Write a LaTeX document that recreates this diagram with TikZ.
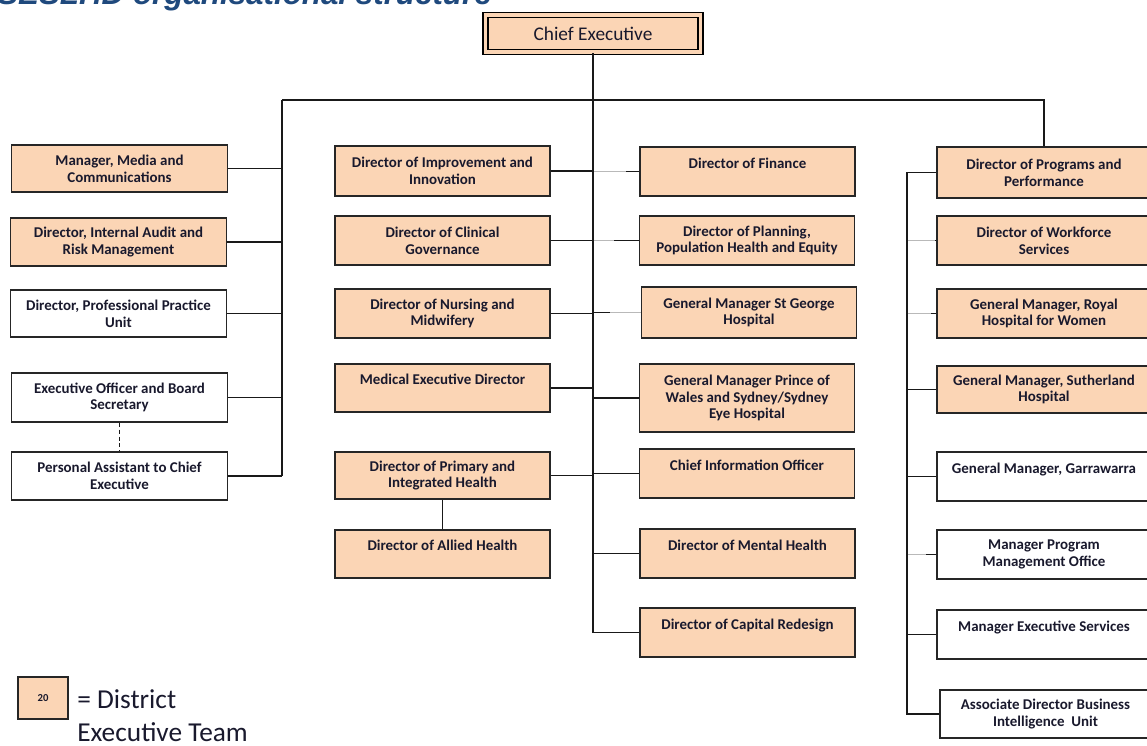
\documentclass[tikz,border=0pt]{standalone}
\usepackage{fontspec}
\setmainfont{Carlito}
\newfontfamily\titlefont{Liberation Sans}
\definecolor{peach}{RGB}{251,213,181}
\definecolor{txt}{RGB}{25,25,45}
\definecolor{titleblue}{RGB}{31,73,125}
\definecolor{segc}{RGB}{185,185,185}
\tikzset{
  orgbox/.style={draw=black!85, line width=1pt, fill=peach, text=txt, align=center,
    inner sep=0pt, font=\bfseries\fontsize{11.2}{12.6}\selectfont},
  wbox/.style={orgbox, fill=white},
  lcol/.style={minimum width=162pt},
  mcol/.style={minimum width=161.25pt},
  rcol/.style={minimum width=160.5pt},
  hh/.style={minimum height=#1*0.75pt},
  conn/.style={draw=black!90, line width=0.9pt},
  graysegm/.style={draw=segc, line width=0.9pt},
}
\begin{document}
\begin{tikzpicture}[x=0.75pt,y=-0.75pt]
\useasboundingbox (0,0) rectangle (1147,746);
\clip (0,0) rectangle (1147,746);

% title (cut at top)
\node[anchor=base west, inner sep=0pt, text=titleblue, font=\titlefont\bfseries\itshape\fontsize{23.5}{26}\selectfont] (title) at (-3,4) {SESLHD organisational structure};

% Chief Executive
\node[draw=black, line width=1.3pt, double=peach, double distance=2.6pt, fill=peach,
  minimum width=161.6pt, minimum height=27.75pt, inner sep=0pt, text=txt,
  font=\fontsize{14.5}{16}\selectfont] (ce) at (593,33.5) {Chief Executive};

% left column
\node[orgbox, lcol, hh=47] (media) at (119.5,168.5) {Manager, Media and\\Communications};
\node[orgbox, lcol, hh=48] (audit) at (118.5,242) {Director, Internal Audit and\\Risk Management};
\node[wbox, lcol, hh=47] (prof) at (118.5,313.5) {Director, Professional Practice\\Unit};
\node[wbox, lcol, hh=49] (execoff) at (119.5,397.5) {Executive Officer and Board\\Secretary};
\node[wbox, lcol, hh=48] (pa) at (119.5,476) {Personal Assistant to Chief\\Executive};

% middle-left column
\node[orgbox, mcol, hh=50] (improv) at (442.5,171) {Director of Improvement and\\Innovation};
\node[orgbox, mcol, hh=49] (clin) at (442.5,240.5) {Director of Clinical\\Governance};
\node[orgbox, mcol, hh=49] (nurs) at (442.5,313.5) {Director of Nursing and\\Midwifery};
\node[orgbox, mcol, hh=48] (med) at (442.5,388) {Medical Executive Director\\\mbox{}};
\node[orgbox, mcol, hh=47] (prim) at (442.5,475.5) {Director of Primary and\\Integrated Health};
\node[orgbox, mcol, hh=48] (allied) at (442.5,554) {Director of Allied Health\\\mbox{}};

% middle-right column
\node[orgbox, mcol, hh=49] (fin) at (747.5,171.5) {Director of Finance\\\mbox{}};
\node[orgbox, mcol, hh=49] (plan) at (747,240.5) {Director of Planning,\\Population Health and Equity};
\node[orgbox, mcol, hh=51] (stg) at (749,312.5) {General Manager St George\\Hospital};
\node[orgbox, mcol, hh=68] (pow) at (747,398) {General Manager Prince of\\Wales and Sydney/Sydney\\Eye Hospital};
\node[orgbox, mcol, hh=49] (cio) at (747,473.5) {Chief Information Officer\\\mbox{}};
\node[orgbox, mcol, hh=49] (mental) at (747.5,553.5) {Director of Mental Health\\\mbox{}};
\node[orgbox, mcol, hh=49] (capital) at (747.5,632.5) {Director of Capital Redesign\\\mbox{}};

% right column
\node[orgbox, rcol, hh=51] (prog) at (1044,172.5) {Director of Programs and\\Performance};
\node[orgbox, rcol, hh=49] (work) at (1044,240.5) {Director of Workforce\\Services};
\node[orgbox, rcol, hh=49] (royal) at (1044,313.5) {General Manager, Royal\\Hospital for Women};
\node[orgbox, rcol, hh=47] (suth) at (1044,389.5) {General Manager, Sutherland\\Hospital};
\node[wbox, rcol, hh=49] (garr) at (1044,476.5) {General Manager, Garrawarra\\\mbox{}};
\node[wbox, rcol, hh=49] (pmo) at (1044,554.5) {Manager Program\\Management Office};
\node[wbox, rcol, hh=49] (execsvc) at (1044,634.5) {Manager Executive Services\\\mbox{}};
\node[wbox, minimum width=158.25pt, hh=48] (assoc) at (1045.5,714) {Associate Director Business\\Intelligence\ \ Unit};

% bus coordinates
\coordinate (lb) at (282,100);
\coordinate (rb) at (907,172.5);

% main trunk
\draw[conn] (ce.south) -- (ce.south |- capital.west) -- (capital.west);
\draw[conn] (lb) -- (prog.north |- lb) -- (prog.north);
\draw[conn] (lb) -- (lb |- pa.east);

% left connectors
\foreach \n in {media,audit,prof,execoff,pa}
  \draw[conn] (\n.east) -- (\n.east -| lb);
\draw[conn, dash pattern=on 3pt off 2.2pt] (execoff.south) -- (pa.north);

% middle-left connectors
\foreach \n in {improv,clin,nurs,med,prim}
  \draw[conn] (\n.east) -- (\n.east -| ce.south);
\draw[conn] (prim.south) -- (allied.north);

% middle-right connectors
\foreach \n in {fin,plan,stg,pow,cio,mental}
  \draw[conn] (\n.west -| ce.south) -- (\n.west);
\draw[graysegm] ([xshift=0.9pt]fin.west -| ce.south) -- ++(32,0);
\draw[graysegm] ([xshift=0.9pt]plan.west -| ce.south) -- ++(20,0);
\draw[graysegm] ([xshift=13pt]stg.west -| ce.south) -- (stg.west);

% right connectors
\draw[conn] (prog.west) -- (rb) -- (rb |- assoc.west) -- (assoc.west);
\foreach \n in {work,royal,suth,garr,pmo,execsvc}
  \draw[conn] (rb |- \n.west) -- (\n.west);
\draw[graysegm] ([xshift=0.6pt]rb |- work.west) -- ([xshift=-1pt]work.west);
\draw[graysegm] ([xshift=0.6pt]rb |- royal.west) -- ++(23,0);
\draw[graysegm] ([xshift=0.6pt]rb |- pmo.west) -- ++(18,0);

% legend
\node[orgbox, minimum width=37.5pt, minimum height=31.5pt, font=\bfseries\fontsize{8}{9}\selectfont] (legendbox) at (43,698) {20};
\node[anchor=base west, inner sep=0pt, align=left, text=txt, font=\fontsize{20.5}{24.5}\selectfont] (legendtext) at (77,741) {= District\\Executive Team};
\end{tikzpicture}
\end{document}
